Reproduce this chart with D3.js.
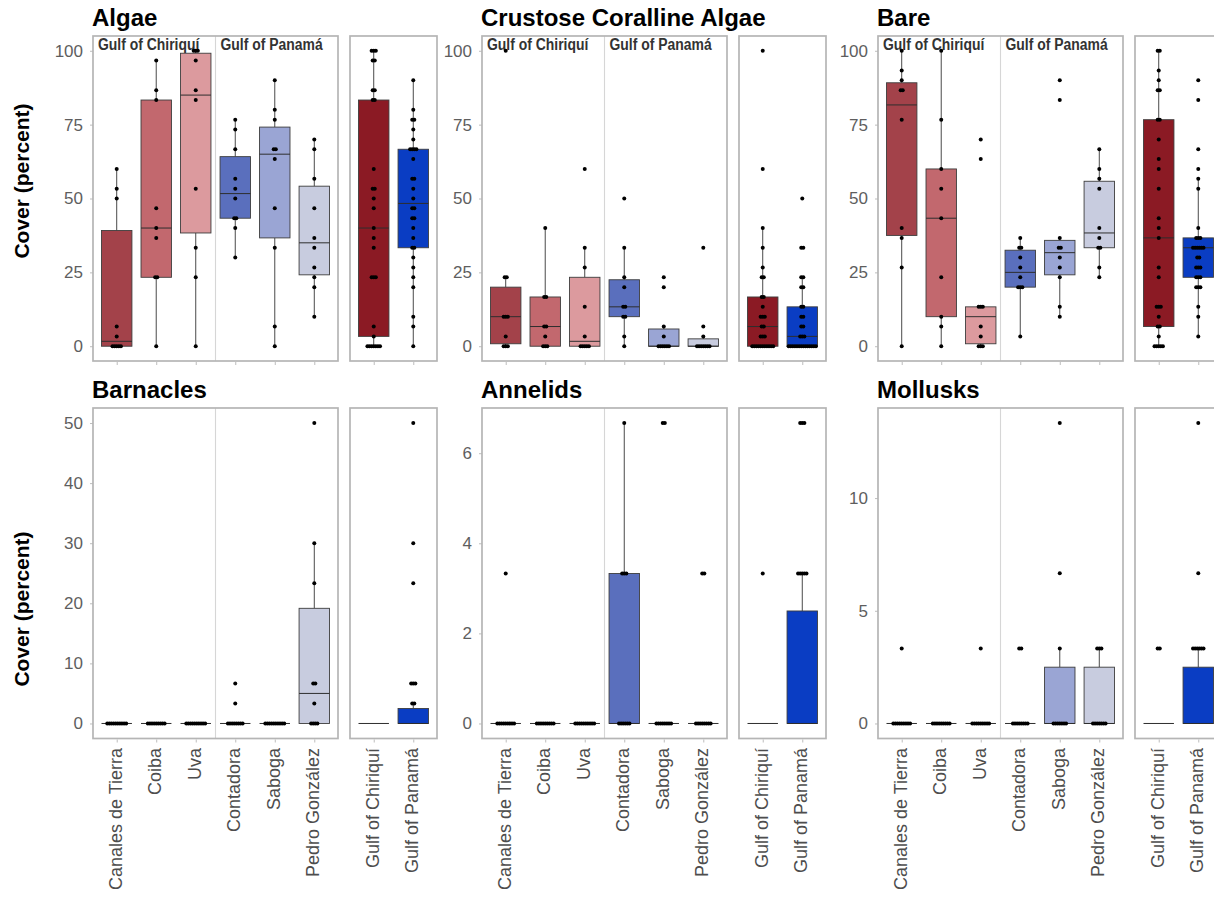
<!DOCTYPE html>
<html>
<head>
<meta charset="utf-8">
<script src="https://cdn.jsdelivr.net/npm/d3@7"></script>
<style>
  body { margin: 0; background: #ffffff; }
  svg { display: block; }
  text { font-family: "Liberation Sans", Arial, Helvetica, sans-serif; }
</style>
</head>
<body>
<svg id="chart" width="1214" height="899"></svg>
<script>
// ---- categories and groups ----
const sites = ["Canales de Tierra", "Coiba", "Uva", "Contadora", "Saboga", "Pedro González"];
const gulfs = ["Gulf of Chiriquí", "Gulf of Panamá"];
const siteGulf = [0, 0, 0, 1, 1, 1];
const siteColors = ["#a3424a", "#c2686e", "#dc9a9e", "#5a6fbd", "#9aa5d4", "#c8ccdf"];
const gulfColors = ["#8b1a24", "#0a3dc3"];
const categories = ["Algae", "Crustose Coralline Algae", "Bare", "Barnacles", "Annelids", "Mollusks"];

// ---- percent cover per quadrat, one list per site (same order as `sites`) ----
const algae = [
  [0, 0, 0, 0, 0, 3.33, 6.67, 50, 53.33, 60],
  [0, 23.33, 23.33, 36.67, 40, 46.67, 83.33, 86.67, 96.67],
  [0, 23.33, 33.33, 53.33, 83.33, 86.67, 96.67, 100, 100, 100],
  [30, 40, 43.33, 43.33, 50, 53.33, 56.67, 66.67, 73.33, 76.67],
  [0, 6.67, 33.33, 46.67, 63.33, 66.67, 66.67, 76.67, 80, 90],
  [10, 20, 23.33, 26.67, 33.33, 36.67, 46.67, 56.67, 66.67, 70]
];
const coralline = [
  [0, 0, 0, 3.33, 10, 10, 10, 23.33, 23.33, 100],
  [0, 0, 0, 3.33, 6.67, 6.67, 16.67, 16.67, 40],
  [0, 0, 0, 0, 0, 3.33, 13.33, 26.67, 33.33, 60],
  [0, 3.33, 10, 10, 13.33, 13.33, 20, 23.33, 33.33, 50],
  [0, 0, 0, 0, 0, 0, 3.33, 6.67, 20, 23.33],
  [0, 0, 0, 0, 0, 0, 0, 3.33, 6.67, 33.33]
];
const bare = [
  [0, 26.67, 36.67, 40, 76.67, 86.67, 86.67, 90, 93.33, 100],
  [0, 6.67, 10, 23.33, 43.33, 53.33, 60, 76.67, 100],
  [0, 0, 0, 3.33, 6.67, 13.33, 13.33, 13.33, 63.33, 70],
  [3.33, 20, 20, 20, 23.33, 26.67, 30, 33.33, 33.33, 36.67],
  [10, 13.33, 23.33, 26.67, 30, 33.33, 33.33, 36.67, 83.33, 90],
  [23.33, 26.67, 33.33, 33.33, 36.67, 40, 53.33, 56.67, 60, 66.67]
];
const barnacles = [
  [0, 0, 0, 0, 0, 0, 0, 0, 0, 0],
  [0, 0, 0, 0, 0, 0, 0, 0, 0],
  [0, 0, 0, 0, 0, 0, 0, 0, 0, 0],
  [0, 0, 0, 0, 0, 0, 0, 0, 3.33, 6.67],
  [0, 0, 0, 0, 0, 0, 0, 0, 0, 0],
  [0, 0, 0, 0, 3.33, 6.67, 6.67, 23.33, 30, 50]
];
const annelids = [
  [0, 0, 0, 0, 0, 0, 0, 0, 0, 3.33],
  [0, 0, 0, 0, 0, 0, 0, 0, 0],
  [0, 0, 0, 0, 0, 0, 0, 0, 0, 0],
  [0, 0, 0, 0, 0, 0, 3.33, 3.33, 3.33, 6.67],
  [0, 0, 0, 0, 0, 0, 0, 0, 6.67, 6.67],
  [0, 0, 0, 0, 0, 0, 0, 0, 3.33, 3.33]
];
const mollusks = [
  [0, 0, 0, 0, 0, 0, 0, 0, 0, 3.33],
  [0, 0, 0, 0, 0, 0, 0, 0, 0],
  [0, 0, 0, 0, 0, 0, 0, 0, 0, 3.33],
  [0, 0, 0, 0, 0, 0, 0, 0, 3.33, 3.33],
  [0, 0, 0, 0, 0, 0, 0, 3.33, 6.67, 13.33],
  [0, 0, 0, 0, 0, 0, 0, 3.33, 3.33, 3.33]
];
const coverData = [algae, coralline, bare, barnacles, annelids, mollusks];

// zero-cover points are left out of the pooled gulf panels for the sparse fauna groups
const pooledZeroDots = [true, true, true, false, false, false];

// ---- y-axis tick labels per category ----
const yTicks = [
  [0, 25, 50, 75, 100],
  [0, 25, 50, 75, 100],
  [0, 25, 50, 75, 100],
  [0, 10, 20, 30, 40, 50],
  [0, 2, 4, 6],
  [0, 5, 10]
];

// ---- layout ----
const colLeft = [93, 482, 878];
const siteW = 245, gulfGap = 12, gulfW = 87;
const rowRange = [[36, 361], [408, 738.5]];
const yTitleCenter = [181, 609];
const labelTop = 748;

const svg = d3.select("#chart");

// Tukey box statistics (quantile type 7, 1.5 IQR whiskers)
function boxStats(vals) {
  const s = vals.slice().sort(d3.ascending);
  const q1 = d3.quantileSorted(s, 0.25);
  const med = d3.quantileSorted(s, 0.5);
  const q3 = d3.quantileSorted(s, 0.75);
  const iqr = q3 - q1;
  const lo = d3.min(s.filter(v => v >= q1 - 1.5 * iqr));
  const hi = d3.max(s.filter(v => v <= q3 + 1.5 * iqr));
  return { q1, med, q3, lo, hi };
}

// one box with whiskers, plus its points (ties spread side by side)
function drawBox(g, vals, cx, bw, y, fill, showZeros) {
  const st = boxStats(vals);
  g.append("line").attr("x1", cx).attr("x2", cx)
    .attr("y1", y(st.hi)).attr("y2", y(st.q3))
    .attr("stroke", "#4a4a4a").attr("stroke-width", 1);
  g.append("line").attr("x1", cx).attr("x2", cx)
    .attr("y1", y(st.q1)).attr("y2", y(st.lo))
    .attr("stroke", "#4a4a4a").attr("stroke-width", 1);
  g.append("rect")
    .attr("x", cx - bw / 2).attr("y", y(st.q3))
    .attr("width", bw).attr("height", Math.max(0, y(st.q1) - y(st.q3)))
    .attr("fill", fill).attr("stroke", "#3d3d3d").attr("stroke-width", 0.9);
  g.append("line").attr("x1", cx - bw / 2).attr("x2", cx + bw / 2)
    .attr("y1", y(st.med)).attr("y2", y(st.med))
    .attr("stroke", "#2e2e2e").attr("stroke-width", 1);

  const groups = d3.groups(vals.filter(v => showZeros || v !== 0), v => v);
  const step = 2.1;
  groups.forEach(([v, arr]) => {
    const k = arr.length;
    arr.forEach((_, j) => {
      g.append("circle")
        .attr("cx", cx + (j - (k - 1) / 2) * step)
        .attr("cy", y(v))
        .attr("r", 2)
        .attr("fill", "#000");
    });
  });
}

categories.forEach((cat, c) => {
  const row = Math.floor(c / 3), col = c % 3;
  const L = colLeft[col];
  const G = L + siteW + gulfGap;
  const [top, bottom] = rowRange[row];
  const siteVals = coverData[c];
  const gulfVals = gulfs.map((_, gi) => siteVals.filter((_, si) => siteGulf[si] === gi).flat());

  const maxV = d3.max(siteVals.flat());
  const minV = Math.min(0, d3.min(siteVals.flat()));
  const pad = (maxV - minV) * 0.05;
  const y = d3.scaleLinear().domain([minV - pad, maxV + pad]).range([bottom, top]);
  const xSite = d3.scalePoint().domain(sites).range([L, L + siteW]).padding(0.6);
  const xGulf = d3.scalePoint().domain(gulfs).range([G, G + gulfW]).padding(0.6);
  const bwSite = xSite.step() * 0.77;
  const bwGulf = xGulf.step() * 0.77;

  const g = svg.append("g");

  // panel title
  g.append("text").attr("x", L - 1).attr("y", top - 10)
    .attr("font-size", 24).attr("font-weight", "bold").attr("fill", "#000")
    .text(cat);

  // divider between the two gulfs
  const divX = (xSite(sites[2]) + xSite(sites[3])) / 2;
  g.append("line").attr("x1", divX).attr("x2", divX)
    .attr("y1", top).attr("y2", bottom)
    .attr("stroke", "#d6d6d6").attr("stroke-width", 1.1);

  // gulf labels inside the site panels (upper row), set in a narrow bold face
  if (row === 0) {
    [L + 5, divX + 5].forEach((lx, i) => {
      g.append("text")
        .attr("transform", `translate(${lx},${top + 14}) scale(0.82,1)`)
        .attr("font-weight", "bold").attr("font-size", 17).attr("fill", "#333")
        .text(gulfs[i]);
    });
  }

  // y axis
  const yAxis = g.append("g").attr("transform", `translate(${L},0)`)
    .call(d3.axisLeft(y).tickValues(yTicks[c]).tickSize(3).tickPadding(7));
  yAxis.select(".domain").remove();
  yAxis.selectAll(".tick line").attr("stroke", "#bdbdbd");
  yAxis.selectAll(".tick text").attr("font-size", 17).attr("fill", "#5e5e5e")
    .attr("font-family", "'Liberation Sans', Arial, sans-serif");

  // x ticks
  [xSite, xGulf].forEach(xs => {
    const ax = g.append("g").attr("transform", `translate(0,${bottom + 1})`)
      .call(d3.axisBottom(xs).tickSize(3).tickFormat(""));
    ax.select(".domain").remove();
    ax.selectAll(".tick line").attr("stroke", "#bdbdbd");
  });

  // boxes
  sites.forEach((s, si) => drawBox(g, siteVals[si], xSite(s), bwSite, y, siteColors[si], true));
  gulfs.forEach((gname, gi) => drawBox(g, gulfVals[gi], xGulf(gname), bwGulf, y, gulfColors[gi], pooledZeroDots[c]));

  // panel frames
  g.append("rect").attr("x", L).attr("y", top).attr("width", siteW).attr("height", bottom - top)
    .attr("fill", "none").attr("stroke", "#b5b5b5").attr("stroke-width", 1.7);
  g.append("rect").attr("x", G).attr("y", top).attr("width", gulfW).attr("height", bottom - top)
    .attr("fill", "none").attr("stroke", "#b5b5b5").attr("stroke-width", 1.7);

  // category labels under the lower row
  if (row === 1) {
    const lab = g.append("g");
    sites.forEach(s => {
      lab.append("text")
        .attr("transform", `translate(${xSite(s)},${labelTop}) rotate(-90)`)
        .attr("text-anchor", "end").attr("dy", "0.27em")
        .attr("font-size", 18).attr("fill", "#4d4d4d").text(s);
    });
    gulfs.forEach(gn => {
      lab.append("text")
        .attr("transform", `translate(${xGulf(gn)},${labelTop}) rotate(-90)`)
        .attr("text-anchor", "end").attr("dy", "0.27em")
        .attr("font-size", 18).attr("fill", "#4d4d4d").text(gn);
    });
  }

  // y-axis title on the left column
  if (col === 0) {
    g.append("text")
      .attr("transform", `translate(29,${yTitleCenter[row]}) rotate(-90)`)
      .attr("text-anchor", "middle")
      .attr("font-size", 21).attr("font-weight", "bold").attr("fill", "#000")
      .text("Cover (percent)");
  }
});
</script>
</body>
</html>
